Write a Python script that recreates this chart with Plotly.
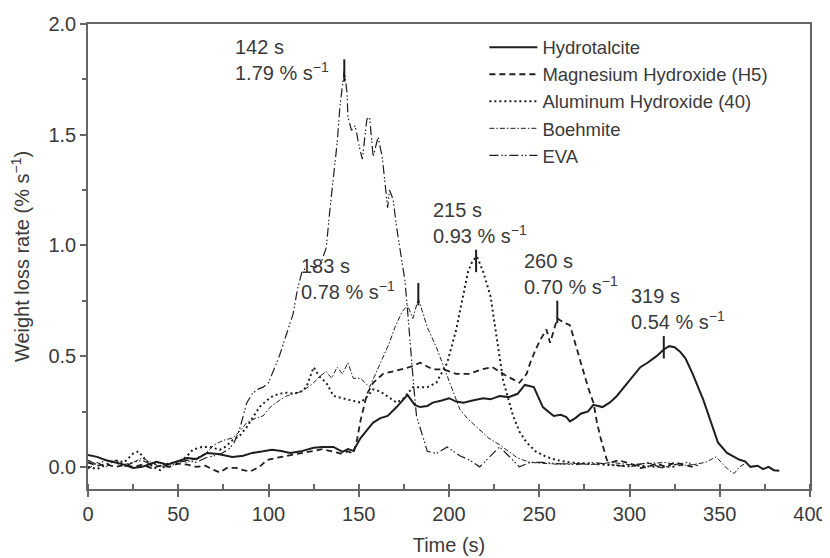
import plotly.graph_objects as go

# Hydrotalcite (solid)
hydro_t = [0, 5, 10, 16, 20, 25, 30, 34, 38, 44, 50, 55, 60, 66, 72, 80, 86, 91, 97, 102,
           107, 112, 118, 125, 130, 136, 141, 144, 147, 151, 155, 158, 162, 166, 171, 174, 177, 181, 184, 188,
           191, 196, 200, 204, 208, 213, 219, 223, 228, 233, 238, 242, 247, 252, 258, 262, 265, 267, 270, 273,
           277, 280, 285, 289, 293, 298, 302, 306, 310, 315, 319, 322, 325, 328, 331, 335, 341, 345, 349, 354,
           358, 361, 364, 367, 371, 374, 377, 380, 383]
hydro_r = [0.054, 0.045, 0.03, 0.018, 0.01, -0.005, 0.0, 0.012, 0.023, 0.01, 0.025, 0.04, 0.035, 0.063, 0.058, 0.045, 0.05, 0.063, 0.07, 0.077,
           0.072, 0.063, 0.07, 0.086, 0.09, 0.09, 0.068, 0.08, 0.072, 0.13, 0.17, 0.2, 0.22, 0.23, 0.27, 0.3, 0.325, 0.28, 0.27, 0.275,
           0.29, 0.3, 0.31, 0.295, 0.29, 0.3, 0.31, 0.305, 0.32, 0.315, 0.33, 0.37, 0.36, 0.27, 0.23, 0.235, 0.225, 0.205, 0.22, 0.24,
           0.25, 0.28, 0.27, 0.29, 0.32, 0.37, 0.41, 0.45, 0.47, 0.5, 0.53, 0.545, 0.54, 0.52, 0.49, 0.42, 0.30, 0.2, 0.11, 0.063,
           0.045, 0.032, 0.025, 0.0, 0.005, -0.01, 0.0, -0.015, -0.018]

# Magnesium Hydroxide (H5) (dashed)
mg_t = [0, 5, 10, 15, 20, 25, 30, 35, 40, 45, 50, 55, 60, 65, 70, 73, 77, 82, 86, 90,
        95, 99, 104, 110, 117, 124, 130, 135, 140, 144, 147, 149, 151, 154.6, 158, 163.5, 168, 173, 178, 184,
        191, 197, 204, 211, 218, 224, 232, 239, 243, 245, 248, 251, 254, 256, 258, 260, 262, 264, 267, 271,
        274, 277, 280, 282, 284, 287.5, 290, 294, 298, 302, 306, 310, 315, 320, 325, 330, 335]
mg_r = [0.02, 0.005, 0.012, 0.0, 0.008, 0.0, 0.01, -0.005, 0.005, 0.0, 0.015, 0.01, 0.0, 0.005, -0.015, -0.025, -0.005, -0.005, -0.015, -0.02,
        0.0, 0.03, 0.04, 0.05, 0.06, 0.07, 0.08, 0.07, 0.06, 0.07, 0.06, 0.12, 0.21, 0.33, 0.38, 0.42, 0.43, 0.44, 0.45, 0.47,
        0.44, 0.44, 0.42, 0.42, 0.44, 0.45, 0.41, 0.38, 0.42, 0.47, 0.53, 0.58, 0.62, 0.56, 0.62, 0.67, 0.66, 0.65, 0.64, 0.53,
        0.44, 0.36, 0.29, 0.2, 0.13, 0.03, 0.02, 0.03, 0.02, 0.01, -0.005, 0.0, 0.015, 0.0, 0.02, 0.01, 0.0]

# Aluminum Hydroxide (40) (dotted)
al_t = [0, 5, 10, 15, 20, 25, 28, 32, 36, 40, 45, 50, 55, 58, 63, 67.5, 73, 76, 80, 84,
        88, 92, 95, 99, 102.5, 106, 110, 114, 118, 121, 125, 128, 132, 136, 141, 147, 151, 155, 158, 162,
        165.5, 171, 175, 180, 184, 188, 193, 199, 204, 208, 210.5, 213, 215.5, 217, 219, 223, 226.5, 230, 235.5, 239,
        243, 248, 254, 260, 267, 275, 285, 295, 305, 315, 325]
al_r = [0.0, -0.01, 0.01, 0.03, 0.02, 0.06, 0.07, 0.03, 0.0, -0.015, 0.02, 0.015, 0.05, 0.077, 0.09, 0.09, 0.077, 0.09, 0.12, 0.14,
        0.18, 0.23, 0.27, 0.30, 0.32, 0.33, 0.335, 0.33, 0.34, 0.36, 0.45, 0.41, 0.38, 0.32, 0.31, 0.30, 0.29, 0.32, 0.35, 0.34,
        0.32, 0.29, 0.31, 0.36, 0.36, 0.36, 0.38, 0.47, 0.62, 0.79, 0.88, 0.93, 0.95, 0.92, 0.88, 0.77, 0.57, 0.39, 0.23, 0.16,
        0.11, 0.07, 0.045, 0.03, 0.02, 0.015, 0.01, 0.005, 0.005, 0.0, 0.0]

# Boehmite (dash-dot)
boe_t = [0, 5, 10, 15, 20, 25, 30, 35, 40, 45, 50, 55, 60, 65, 70, 75, 80, 84, 88, 93,
         97, 101, 106, 110, 114, 118, 122, 125, 128.5, 132, 135, 138, 141, 144, 147, 151, 156, 160, 164, 167,
         170, 174, 177, 180, 183, 186, 188, 193, 199, 203, 206, 210, 214, 217, 222, 228, 233, 238, 245, 252,
         260, 270, 280, 290, 300, 310, 320, 328, 335, 342, 348, 352, 355, 358, 361, 365]
boe_r = [-0.01, 0.02, 0.0, 0.03, 0.01, 0.02, 0.04, 0.02, 0.0, 0.01, 0.03, 0.02, 0.04, 0.06, 0.1, 0.12, 0.13, 0.16, 0.2, 0.22,
         0.23, 0.27, 0.3, 0.32, 0.33, 0.34, 0.36, 0.38, 0.41, 0.43, 0.4, 0.45, 0.42, 0.47, 0.40, 0.40, 0.36, 0.43, 0.5, 0.56,
         0.63, 0.70, 0.73, 0.67, 0.76, 0.68, 0.63, 0.54, 0.41, 0.32, 0.26, 0.22, 0.19, 0.17, 0.13, 0.1, 0.07, 0.04, 0.02, 0.015,
         0.012, 0.015, 0.01, 0.02, 0.01, 0.015, 0.02, 0.005, 0.01, 0.02, 0.045, 0.01, -0.015, -0.03, 0.0, 0.02]

# EVA (dash-dot-dot)
eva_t = [0, 5, 10, 15, 20, 25, 30, 35, 40, 45, 50, 55, 60, 65, 70, 74, 78, 81, 84, 88,
         91, 94, 97, 100, 103, 106, 110, 113.6, 116, 118.5, 122, 126, 129, 132, 134, 136, 138, 139.6, 141, 142,
         143.5, 144, 146, 148, 150.7, 152, 154.5, 156, 158, 160.7, 163, 164.5, 166, 167, 169, 171, 173, 175.6, 177, 179,
         180.5, 182, 185.6, 188, 193, 199, 206, 211.6, 217, 222, 228, 233, 239, 245, 252, 260, 270, 280, 290, 300,
         310, 318, 325, 332, 338]
eva_r = [0.03, 0.01, 0.03, 0.02, 0.0, 0.02, 0.03, 0.01, 0.02, 0.0, 0.02, 0.03, 0.02, 0.04, 0.05, 0.06, 0.08, 0.11, 0.17, 0.29,
         0.33, 0.35, 0.36, 0.38, 0.44, 0.50, 0.60, 0.69, 0.80, 0.88, 0.91, 0.9, 0.92, 0.99, 1.16, 1.31, 1.46, 1.63, 1.74, 1.79,
         1.69, 1.58, 1.52, 1.54, 1.43, 1.39, 1.57, 1.58, 1.40, 1.49, 1.40, 1.28, 1.17, 1.25, 1.21, 1.08, 0.98, 0.84, 0.71, 0.5,
         0.36, 0.23, 0.14, 0.07, 0.06, 0.09, 0.05, 0.03, 0.0, 0.04, 0.09, 0.05, 0.0, 0.02, 0.02, 0.015, 0.01, 0.02, 0.01, 0.0,
         0.02, -0.005, 0.01, 0.02, 0.005]

# labelled peaks
peak_times = [142, 183, 215, 260, 319]
peak_rates = [1.79, 0.78, 0.93, 0.70, 0.54]

INK = "#1e1e1e"
TXT = "#3a3a3a"
FONT = "Liberation Sans, Arial, sans-serif"

fig = go.Figure()
series = [
    ("Hydrotalcite", hydro_t, hydro_r, dict(width=2.0, dash="solid")),
    ("Magnesium Hydroxide (H5)", mg_t, mg_r, dict(width=1.8, dash="6px,4px")),
    ("Aluminum Hydroxide (40)", al_t, al_r, dict(width=2.0, dash="2px,3px")),
    ("Boehmite", boe_t, boe_r, dict(width=1.0, dash="5px,2px,1.5px,2px")),
    ("EVA", eva_t, eva_r, dict(width=1.2, dash="9px,3px,1.5px,2px,1.5px,3px")),
]
for name, t, r, ln in series:
    fig.add_trace(go.Scatter(x=t, y=r, mode="lines", name=name,
                             line=dict(color=INK, **ln)))

# peak tick marks
fig.add_trace(go.Scatter(x=peak_times, y=peak_rates, mode="markers", showlegend=False,
                         marker=dict(symbol="line-ns-open", size=16, color=INK,
                                     line=dict(color=INK, width=2))))

# peak labels (layout offsets in px)
shifts = [(-111, -15), (-119, -11), (-45, 12), (-35, 12), (-35, 12)]
for (t, r), (dx, dy) in zip(zip(peak_times, peak_rates), shifts):
    fig.add_annotation(x=t, y=r, xref="x", yref="y", showarrow=False,
                       text=f"{t} s<br>{r:.2f} % s<sup>\u22121</sup>",
                       align="left", xanchor="left", yanchor="bottom",
                       xshift=dx, yshift=dy, font=dict(size=20, color=TXT, family=FONT))

axis_common = dict(showline=True, linecolor="#666", linewidth=1.5, mirror=True,
                   showgrid=False, zeroline=False, ticks="outside", ticklen=6,
                   tickcolor="#666", tickwidth=1.5, automargin=False,
                   tickfont=dict(size=20, color=TXT, family=FONT))

# the page adds an 8px body margin, so the figure is 8px smaller on each axis
fig.update_layout(
    width=822, height=550,
    margin=dict(l=80, r=20, t=16, b=69),
    paper_bgcolor="white", plot_bgcolor="white",
    font=dict(family=FONT, size=20, color=TXT),
    xaxis=dict(range=[0, 400], dtick=50,
               minor=dict(dtick=25, ticks="inside", ticklen=5, tickcolor="#666", tickwidth=1.5),
               title=dict(text="Time (s)", font=dict(size=20, color=TXT), standoff=14),
               **axis_common),
    yaxis=dict(range=[-0.1, 2.0], dtick=0.5, tickformat=".1f",
               minor=dict(dtick=0.25, ticks="outside", ticklen=4, tickcolor="#666", tickwidth=1.5),
               title=dict(text="Weight loss rate (% s<sup>\u22121</sup>)", font=dict(size=20, color=TXT), standoff=15),
               **axis_common),
    legend=dict(x=0.549, y=0.99, xanchor="left", yanchor="top",
                bgcolor="rgba(0,0,0,0)", font=dict(size=18.5, color=TXT, family=FONT),
                tracegroupgap=0, itemwidth=48),
    showlegend=True,
)

fig.write_html("out.html")
